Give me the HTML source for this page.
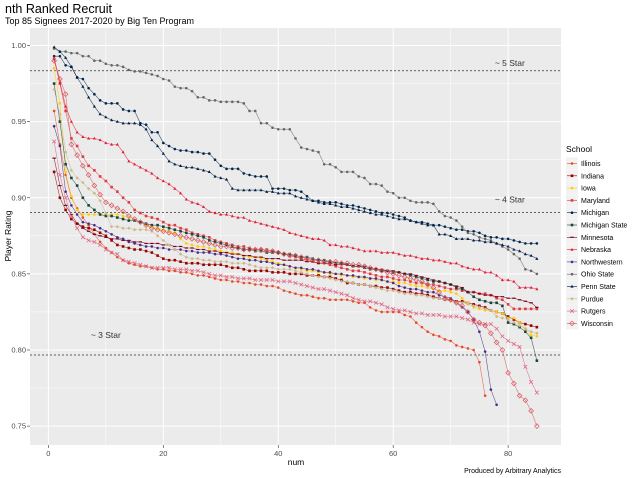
<!DOCTYPE html>
<html><head><meta charset="utf-8"><style>
body{margin:0;background:#fff;font-family:"Liberation Sans",sans-serif}
svg{display:block}
</style></head><body>
<svg id="chart" width="640" height="478" xmlns="http://www.w3.org/2000/svg" font-family="Liberation Sans, sans-serif">
<text x="5" y="13" font-size="12.5" fill="#000">nth Ranked Recruit</text>
<text x="5" y="24" font-size="9" fill="#000">Top 85 Signees 2017-2020 by Big Ten Program</text>
<text transform="translate(11,236) rotate(-90)" text-anchor="middle" font-size="8.5" fill="#000">Player Rating</text>
<text x="296" y="465" text-anchor="middle" font-size="8.5" fill="#000">num</text>
<text x="561" y="473" text-anchor="end" font-size="7" fill="#000">Produced by Arbitrary Analytics</text>
<g id="plot"></g>
<g id="legend"></g>
</svg>
<script>
const schools = ["Illinois","Indiana","Iowa","Maryland","Michigan","Michigan State","Minnesota","Nebraska","Northwestern","Ohio State","Penn State","Purdue","Rutgers","Wisconsin"];
const xTicks = [0,20,40,60,80];
const yTicks = [0.75,0.80,0.85,0.90,0.95,1.00];
const yTickLabels = ["0.75","0.80","0.85","0.90","0.95","1.00"];
const starLevels = [0.9834,0.8904,0.7967];
const starLabels = ["~ 5 Star","~ 4 Star","~ 3 Star"];
const starLabelX = [80.3,80.3,10];
const starLabelOffset = [5,10,17];

const illinois = [.957,.935,.915,.900,.893,.887,.882,.876,.871,.867,.864,.861,.859,.857,.856,.855,.855,.854,.853,.853,.852,.852,.851,.851,.850,.849,.849,.848,.847,.846,.846,.845,.845,.844,.844,.843,.843,.842,.842,.841,.839,.838,.837,.836,.836,.835,.834,.834,.833,.833,.833,.833,.832,.831,.831,.828,.826,.825,.825,.825,.825,.823,.822,.818,.815,.812,.810,.809,.807,.806,.803,.802,.801,.800,.792,.770];
const indiana = [.917,.900,.892,.886,.883,.881,.880,.879,.877,.875,.872,.869,.868,.867,.866,.866,.865,.864,.862,.860,.859,.859,.858,.857,.857,.857,.856,.856,.856,.856,.855,.854,.854,.853,.852,.852,.852,.852,.851,.851,.851,.850,.850,.850,.849,.849,.849,.848,.848,.847,.846,.844,.844,.843,.843,.842,.842,.841,.841,.840,.839,.838,.838,.837,.837,.836,.835,.834,.833,.833,.832,.832,.831,.830,.829,.828,.826,.825,.824,.822,.820,.818,.817,.816,.815];
const iowa = [.985,.962,.917,.901,.892,.889,.889,.889,.889,.889,.889,.889,.888,.887,.885,.884,.882,.881,.880,.879,.878,.877,.873,.870,.869,.868,.868,.867,.866,.865,.864,.864,.863,.862,.861,.861,.860,.859,.858,.857,.856,.855,.854,.853,.852,.852,.851,.851,.850,.850,.849,.849,.848,.848,.847,.847,.846,.846,.845,.845,.844,.844,.843,.842,.842,.841,.840,.839,.839,.838,.837,.834,.831,.828,.827,.826,.826,.825,.824,.821,.821,.818,.814,.810,.809];
const maryland = [.991,.975,.957,.939,.934,.927,.921,.918,.914,.911,.907,.904,.900,.897,.892,.890,.888,.887,.886,.884,.882,.882,.880,.879,.877,.876,.875,.874,.872,.871,.870,.869,.868,.868,.867,.866,.866,.866,.865,.864,.863,.862,.861,.860,.859,.858,.857,.857,.856,.855,.854,.853,.852,.852,.851,.850,.849,.848,.848,.847,.846,.846,.845,.844,.844,.843,.843,.842,.841,.840,.840,.839,.838,.838,.837,.837,.836,.834,.833,.830,.827,.827,.827,.827,.827];
const michigan = [.993,.993,.987,.986,.979,.978,.972,.968,.964,.962,.962,.962,.958,.957,.957,.949,.948,.943,.943,.936,.934,.932,.931,.931,.930,.930,.929,.929,.925,.921,.919,.919,.919,.916,.915,.914,.914,.914,.906,.906,.906,.905,.905,.904,.901,.898,.898,.897,.897,.897,.896,.895,.895,.894,.893,.892,.891,.890,.890,.889,.888,.887,.885,.884,.884,.883,.882,.882,.881,.880,.879,.879,.878,.878,.877,.875,.874,.874,.873,.873,.872,.871,.870,.870,.870];
const michiganState = [.975,.950,.922,.913,.908,.900,.895,.892,.889,.888,.888,.887,.886,.885,.885,.884,.883,.882,.882,.881,.880,.879,.878,.877,.876,.875,.874,.872,.871,.870,.869,.868,.867,.866,.866,.865,.865,.864,.864,.864,.863,.863,.862,.861,.861,.860,.859,.859,.858,.857,.857,.856,.855,.855,.854,.853,.853,.852,.852,.851,.851,.850,.849,.848,.847,.846,.845,.845,.844,.843,.841,.840,.838,.835,.833,.832,.831,.831,.829,.818,.817,.815,.812,.808,.793];
const minnesota = [.926,.908,.895,.889,.883,.880,.878,.876,.875,.874,.873,.873,.872,.872,.871,.871,.870,.870,.870,.869,.869,.868,.868,.867,.867,.866,.866,.865,.865,.864,.864,.863,.863,.862,.862,.861,.861,.860,.860,.860,.859,.859,.859,.859,.858,.858,.857,.857,.857,.856,.856,.856,.855,.855,.855,.854,.853,.853,.852,.852,.851,.850,.850,.849,.848,.847,.846,.845,.844,.843,.842,.841,.838,.838,.837,.836,.836,.835,.835,.834,.834,.833,.832,.831,.828];
const nebraska = [.992,.976,.960,.950,.943,.940,.939,.939,.938,.936,.935,.935,.930,.924,.922,.920,.918,.916,.913,.911,.909,.906,.903,.899,.897,.896,.894,.891,.890,.889,.889,.888,.887,.887,.885,.884,.883,.882,.881,.880,.879,.877,.876,.875,.874,.873,.873,.872,.869,.869,.868,.868,.867,.866,.865,.865,.865,.864,.864,.864,.863,.862,.862,.861,.860,.860,.859,.859,.858,.857,.857,.855,.854,.853,.853,.851,.851,.849,.846,.846,.845,.841,.841,.841,.840];
const northwestern = [.947,.934,.904,.895,.889,.884,.883,.882,.880,.878,.876,.874,.873,.871,.870,.869,.868,.868,.867,.867,.866,.866,.866,.865,.865,.864,.864,.864,.863,.863,.862,.861,.860,.860,.859,.859,.858,.858,.857,.856,.856,.855,.854,.854,.853,.853,.852,.851,.851,.850,.850,.849,.849,.848,.848,.847,.847,.846,.845,.844,.842,.841,.840,.840,.839,.838,.838,.836,.835,.834,.831,.828,.825,.820,.812,.799,.774,.764];
const ohioState = [.998,.996,.996,.995,.995,.993,.993,.990,.990,.988,.987,.987,.986,.984,.983,.983,.982,.981,.980,.978,.977,.973,.972,.972,.970,.966,.966,.964,.964,.963,.963,.963,.963,.962,.957,.957,.949,.949,.946,.945,.945,.945,.939,.933,.932,.931,.930,.922,.922,.920,.917,.917,.917,.914,.913,.909,.909,.908,.904,.903,.900,.900,.898,.897,.897,.897,.896,.891,.888,.887,.885,.881,.877,.876,.874,.873,.872,.870,.868,.866,.863,.860,.853,.852,.850];
const pennState = [.999,.996,.992,.986,.979,.973,.966,.960,.955,.953,.951,.950,.949,.949,.949,.948,.945,.938,.934,.929,.924,.922,.921,.920,.920,.919,.918,.917,.914,.913,.912,.906,.905,.905,.905,.905,.905,.904,.904,.903,.903,.903,.901,.900,.899,.898,.897,.896,.896,.895,.894,.894,.893,.892,.891,.890,.889,.889,.888,.887,.886,.886,.885,.884,.883,.882,.882,.876,.876,.875,.873,.873,.873,.872,.872,.871,.871,.870,.869,.868,.866,.865,.863,.862,.860];
const purdue = [.971,.955,.930,.918,.913,.910,.906,.903,.898,.890,.881,.881,.880,.880,.879,.879,.879,.878,.875,.872,.869,.866,.863,.861,.860,.860,.859,.859,.858,.858,.858,.857,.857,.857,.856,.855,.854,.854,.854,.853,.853,.853,.852,.851,.850,.849,.848,.848,.847,.846,.845,.845,.844,.843,.843,.842,.841,.840,.839,.839,.838,.837,.837,.836,.836,.835,.834,.834,.833,.832,.831,.831,.830,.829,.828,.827,.826,.822,.821,.820,.818,.816,.814,.812,.811];
const rutgers = [.937,.915,.900,.888,.880,.874,.872,.871,.869,.866,.864,.863,.859,.858,.857,.856,.855,.854,.854,.854,.854,.853,.853,.853,.852,.852,.851,.850,.849,.849,.848,.848,.847,.847,.847,.846,.846,.846,.846,.845,.845,.845,.844,.843,.842,.841,.840,.840,.839,.838,.837,.836,.834,.833,.832,.832,.831,.830,.828,.827,.826,.826,.825,.824,.824,.823,.823,.823,.822,.822,.822,.821,.820,.818,.817,.817,.817,.814,.809,.806,.804,.802,.789,.779,.772];
const wisconsin = [.990,.978,.968,.935,.928,.921,.915,.908,.902,.897,.895,.893,.891,.888,.886,.884,.882,.880,.879,.878,.877,.876,.875,.874,.873,.872,.871,.870,.869,.868,.868,.867,.867,.866,.866,.866,.866,.865,.865,.864,.863,.862,.862,.861,.860,.859,.859,.858,.858,.858,.857,.857,.856,.856,.855,.854,.853,.852,.851,.850,.849,.848,.847,.846,.845,.843,.841,.838,.834,.833,.831,.829,.825,.820,.818,.816,.811,.805,.800,.785,.778,.770,.767,.760,.750];

const seriesValues = [illinois,indiana,iowa,maryland,michigan,michiganState,minnesota,nebraska,northwestern,ohioState,pennState,purdue,rutgers,wisconsin];
const colors = ["#E84A27","#990000","#FFCD00","#E03A3E","#00274C","#18453B","#7A0019","#E41C38","#4E2A84","#666666","#041E42","#CEB888","#E0607E","#D9575E"];
const shapes = ["circle","square","circle","square","circle","square","dash","triangle","circle","circle","triangle","diamond","cross","odiamond"];

const NS="http://www.w3.org/2000/svg";
const PX0=30, PX1=561, PY0=28, PY1=445;
const xMin=-3.2, xMax=89.2, yMin=0.7376, yMax=1.0115;
function sx(v){return PX0+(v-xMin)/(xMax-xMin)*(PX1-PX0);}
function sy(v){return PY1-(v-yMin)/(yMax-yMin)*(PY1-PY0);}
function mk(tag,attrs,parent){const e=document.createElementNS(NS,tag);for(const k in attrs)e.setAttribute(k,attrs[k]);parent.appendChild(e);return e;}
const plot=document.getElementById('plot');
const bg=mk('rect',{x:PX0,y:PY0,width:PX1-PX0,height:PY1-PY0,fill:'#EBEBEB'},plot);


for(let i=0;i<xTicks.length;i++){const m=xTicks[i]+10;if(m<xMax){const l=mk('line',{x1:sx(m),x2:sx(m),y1:PY0,y2:PY1,stroke:'#fff','stroke-width':0.5},plot);}}
for(let i=0;i<yTicks.length;i++){const m=yTicks[i]+0.025;if(m<yMax){const l=mk('line',{x1:PX0,x2:PX1,y1:sy(m),y2:sy(m),stroke:'#fff','stroke-width':0.5},plot);}}
for(let i=0;i<xTicks.length;i++){
 const x=sx(xTicks[i]);
 const l=mk('line',{x1:x,x2:x,y1:PY0,y2:PY1,stroke:'#fff','stroke-width':1},plot);
 
 
 const t=mk('line',{x1:x,x2:x,y1:PY1,y2:PY1+3,stroke:'#333','stroke-width':0.6},plot);
 
 
 const tx=mk('text',{x:x,y:PY1+11,'text-anchor':'middle','font-size':7.5,fill:'#4D4D4D'},plot);
 tx.textContent=String(xTicks[i]);
 
 
}
for(let i=0;i<yTicks.length;i++){
 const y=sy(yTicks[i]);
 const l=mk('line',{x1:PX0,x2:PX1,y1:y,y2:y,stroke:'#fff','stroke-width':1},plot);
 
 
 const t=mk('line',{x1:PX0-3,x2:PX0,y1:y,y2:y,stroke:'#333','stroke-width':0.6},plot);
 
 
 const tx=mk('text',{x:PX0-4,y:y+2.5,'text-anchor':'end','font-size':7.5,fill:'#4D4D4D'},plot);
 tx.textContent=yTickLabels[i];
 
 
}
for(let i=0;i<starLevels.length;i++){
 const y=sy(starLevels[i]);
 const l=mk('line',{x1:PX0,x2:PX1,y1:y,y2:y,stroke:'#333','stroke-width':0.7,'stroke-dasharray':'2,2'},plot);
 
 
 const t=mk('text',{x:sx(starLabelX[i]),y:y-starLabelOffset[i],'text-anchor':'middle','font-size':8.5,fill:'#333'},plot);
 t.textContent=starLabels[i];
 
 
}
function marker(shape,x,y,c,parent,r){
 let e;
 if(shape==='circle'){e=mk('circle',{cx:x,cy:y,r:r,fill:c},parent);}
 else if(shape==='square'){e=mk('rect',{x:x-r,y:y-r,width:2*r,height:2*r,fill:c},parent);}
 else if(shape==='triangle'){e=mk('path',{d:`M${x},${y-r*1.3}L${x+r*1.2},${y+r*0.9}L${x-r*1.2},${y+r*0.9}Z`,fill:c},parent);}
 else if(shape==='diamond'){e=mk('path',{d:`M${x},${y-r*1.3}L${x+r*1.3},${y}L${x},${y+r*1.3}L${x-r*1.3},${y}Z`,fill:c},parent);}
 else if(shape==='odiamond'){e=mk('path',{d:`M${x},${y-r*1.8}L${x+r*1.8},${y}L${x},${y+r*1.8}L${x-r*1.8},${y}Z`,fill:'none',stroke:c,'stroke-width':0.7},parent);}
 else if(shape==='cross'){e=mk('path',{d:`M${x-r*1.4},${y-r*1.4}L${x+r*1.4},${y+r*1.4}M${x-r*1.4},${y+r*1.4}L${x+r*1.4},${y-r*1.4}`,stroke:c,'stroke-width':0.7},parent);}
 else {e=mk('rect',{x:x-r*1.3,y:y-0.6,width:2.6*r,height:1.2,fill:c},parent);}
 return e;
}
for(let s=0;s<schools.length;s++){
 const g=mk('g',{},plot);
 const slug=schools[s].toLowerCase().replace(/ /g,'-');
 
 
 const vals=seriesValues[s];
 let d='';
 for(let i=0;i<vals.length;i++){d+=(i?'L':'M')+sx(i+1).toFixed(1)+','+sy(vals[i]).toFixed(1);}
 const p=mk('path',{d:d,fill:'none',stroke:colors[s],'stroke-width':0.6,'stroke-opacity':0.8},g);
 
 
 for(let i=0;i<vals.length;i++){
  const m=marker(shapes[s],sx(i+1),sy(vals[i]),colors[s],g,1.3);
  
  
 }
}
const lg=document.getElementById('legend');
const lt=mk('text',{x:566,y:152,'font-size':8.5,fill:'#000'},lg);
lt.textContent='School';


for(let s=0;s<schools.length;s++){
 const y=163.5+s*12.3;
 const g=mk('g',{},lg);
 
 
 mk('rect',{x:566,y:y-6,width:12,height:12,fill:'#F2F2F2'},g);
 mk('line',{x1:567,x2:577,y1:y,y2:y,stroke:colors[s],'stroke-width':0.6},g);
 marker(shapes[s],572,y,colors[s],g,1.3);
 const t=mk('text',{x:581,y:y+2.5,'font-size':7,fill:'#000'},g);
 t.textContent=schools[s];
 
 
}
</script>
</body></html>
